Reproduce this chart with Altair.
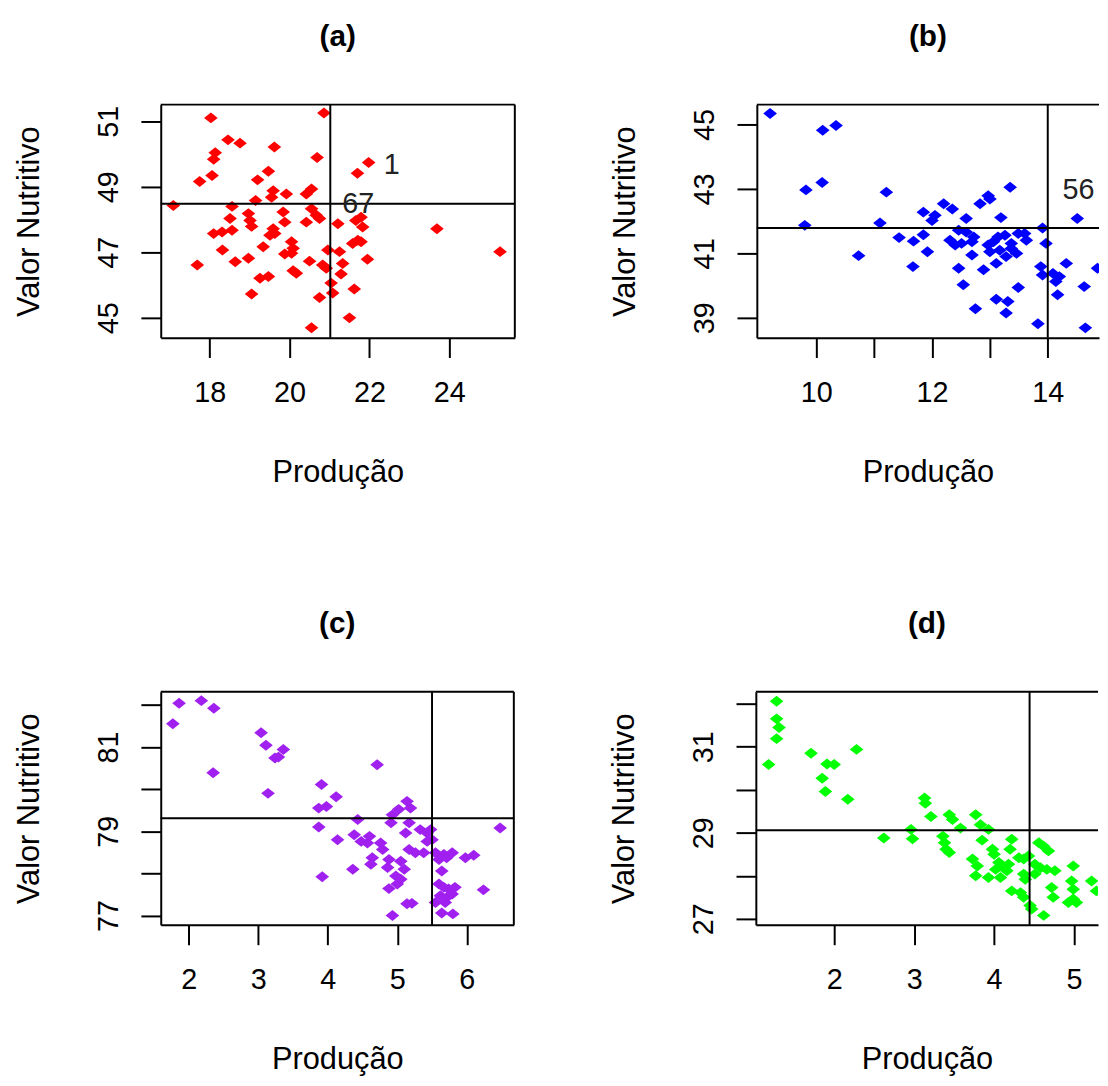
import altair as alt
import pandas as pd

FONT = "Liberation Sans"

# ---------------- data ----------------
a_x = [18.03, 20.86, 18.46, 18.76, 19.62, 18.14, 18.10, 20.69, 21.70, 21.98, 18.06, 17.75, 19.47, 19.20,
       19.59, 19.55, 19.92, 20.42, 20.55, 19.15, 17.09, 18.56, 18.97, 19.01, 19.05, 19.84, 19.88, 20.55,
       20.67, 20.75, 18.51, 18.56, 18.10, 18.31, 20.42, 21.21, 19.59, 19.51, 19.63, 18.32, 19.34, 20.05,
       20.09, 19.88, 20.05, 20.96, 21.25, 18.64, 18.97, 20.50, 20.83, 20.92, 17.69, 21.33, 20.09, 20.17,
       21.29, 19.26, 19.47, 21.04, 21.08, 21.62, 19.05, 20.75, 20.55, 21.50, 21.66, 21.79, 21.83, 21.71,
       21.58, 21.79, 23.69, 25.27, 21.95]
a_y = [51.10, 51.25, 50.43, 50.33, 50.21, 50.04, 49.84, 49.89, 49.41, 49.74, 49.34, 49.16, 49.47, 49.21,
       48.88, 48.68, 48.78, 48.78, 48.93, 48.58, 48.43, 48.40, 48.18, 47.97, 47.79, 48.23, 47.92, 48.33,
       48.13, 48.03, 48.03, 47.67, 47.57, 47.62, 47.92, 47.87, 47.72, 47.52, 47.57, 47.07, 47.17, 47.32,
       47.12, 46.95, 46.97, 47.07, 47.02, 46.71, 46.82, 46.73, 46.61, 46.51, 46.61, 46.66, 46.44, 46.36,
       46.34, 46.21, 46.26, 46.06, 45.76, 45.88, 45.73, 45.62, 44.70, 45.00, 47.97, 48.07, 47.77, 47.37,
       47.27, 47.32, 47.72, 47.02, 46.79]

b_x = [9.20, 10.11, 10.34, 9.82, 10.10, 11.21, 9.80, 11.10, 11.85, 12.00, 11.43, 11.68, 11.85, 11.92,
       10.73, 11.67, 13.35, 12.97, 13.00, 12.83, 12.20, 12.35, 12.05, 12.59, 13.19, 14.51, 12.46, 12.59,
       13.91, 12.31, 12.40, 12.51, 12.69, 12.72, 12.97, 13.06, 13.14, 13.26, 13.37, 13.49, 13.60, 13.63,
       13.97, 13.00, 13.17, 13.37, 13.46, 12.69, 13.11, 13.28, 12.46, 12.89, 13.88, 13.91, 14.09, 14.20,
       14.14, 14.32, 14.86, 12.54, 13.49, 14.17, 14.63, 13.11, 13.31, 12.75, 13.28, 13.83, 14.65]
b_y = [45.34, 44.82, 44.97, 42.97, 43.20, 42.90, 41.87, 41.94, 42.28, 42.02, 41.49, 41.38, 41.58, 41.05,
       40.93, 40.59, 43.05, 42.79, 42.69, 42.54, 42.54, 42.38, 42.18, 42.08, 42.11, 42.08, 41.72, 41.66,
       41.79, 41.41, 41.26, 41.31, 41.36, 41.51, 41.26, 41.36, 41.51, 41.56, 41.31, 41.62, 41.62, 41.41,
       41.31, 41.05, 41.10, 41.15, 41.00, 40.95, 40.69, 40.90, 40.54, 40.49, 40.59, 40.33, 40.38, 40.28,
       40.13, 40.69, 40.54, 40.03, 39.94, 39.72, 39.97, 39.58, 39.51, 39.28, 39.15, 38.82, 38.69]

c_x = [1.86, 2.18, 2.36, 1.77, 3.04, 3.11, 3.36, 3.24, 3.29, 2.35, 3.14, 3.91, 4.12, 3.87, 3.98, 3.87,
       4.14, 3.92, 4.71, 5.14, 5.19, 5.02, 4.93, 4.43, 4.91, 5.17, 5.33, 5.43, 5.48, 5.12, 5.50, 5.43,
       6.48, 4.38, 4.48, 4.60, 4.57, 4.76, 4.79, 5.17, 5.26, 5.38, 5.55, 5.67, 5.79, 5.60, 5.71, 5.98,
       6.10, 4.64, 4.62, 4.88, 4.86, 5.05, 5.10, 4.36, 5.64, 4.98, 5.05, 5.00, 4.88, 5.60, 5.67, 5.74,
       5.83, 6.24, 5.62, 5.71, 5.79, 5.55, 5.69, 5.14, 5.21, 5.64, 5.80, 4.93]
c_y = [82.04, 82.10, 81.92, 81.55, 81.34, 81.04, 80.94, 80.74, 80.76, 80.39, 79.90, 80.11, 79.82, 79.55,
       79.59, 79.10, 78.80, 77.92, 80.58, 79.71, 79.55, 79.52, 79.39, 79.28, 79.20, 79.20, 79.04, 78.96,
       79.04, 78.96, 78.80, 78.76, 79.08, 78.92, 78.76, 78.88, 78.72, 78.72, 78.57, 78.57, 78.49, 78.49,
       78.49, 78.45, 78.49, 78.33, 78.37, 78.37, 78.43, 78.37, 78.22, 78.33, 78.14, 78.29, 78.10, 78.10,
       78.06, 77.94, 77.86, 77.75, 77.64, 77.75, 77.67, 77.63, 77.67, 77.61, 77.47, 77.43, 77.51, 77.31,
       77.31, 77.28, 77.29, 77.06, 77.04, 77.00]

d_x = [1.28, 1.28, 1.31, 1.28, 1.18, 1.71, 2.28, 1.91, 2.00, 1.85, 1.89, 2.17, 3.13, 3.14, 3.21, 2.62,
       2.96, 2.98, 3.44, 3.48, 3.77, 3.83, 3.93, 3.58, 3.36, 3.38, 3.40, 3.44, 3.85, 4.22, 4.20, 3.98,
       4.00, 3.73, 3.79, 4.06, 4.12, 4.18, 4.02, 4.16, 4.31, 4.37, 4.43, 3.77, 3.93, 4.08, 4.37, 4.39,
       4.56, 4.62, 4.68, 4.51, 4.58, 4.66, 4.76, 4.99, 4.51, 4.72, 4.74, 4.97, 4.99, 4.99, 5.22, 5.28,
       4.93, 5.03, 4.22, 4.33, 4.37, 4.45, 4.47, 4.62]
d_y = [32.06, 31.65, 31.45, 31.19, 30.59, 30.85, 30.94, 30.60, 30.59, 30.27, 29.96, 29.78, 29.81, 29.69,
       29.38, 28.88, 29.08, 28.86, 29.42, 29.31, 29.42, 29.19, 29.08, 29.11, 28.92, 28.77, 28.62, 28.54,
       28.83, 28.85, 28.62, 28.62, 28.50, 28.39, 28.23, 28.31, 28.19, 28.27, 28.15, 28.12, 28.42, 28.39,
       28.46, 28.00, 27.96, 27.96, 28.04, 27.92, 28.77, 28.69, 28.58, 28.27, 28.19, 28.15, 28.12, 28.23,
       28.04, 27.73, 27.50, 27.88, 27.69, 27.46, 27.88, 27.65, 27.38, 27.38, 27.65, 27.61, 27.50, 27.31,
       27.23, 27.08]

titles = ["(a)", "(b)", "(c)", "(d)"]
colors = ["#FF0000", "#0000FF", "#A020F0", "#00FF00"]
x_title = "Produção"
y_title = "Valor Nutritivo"

# mean lines (vertical, horizontal)
a_lines = (21.02, 48.48)
b_lines = (14.00, 41.79)
c_lines = (5.50, 79.31)
d_lines = (4.444, 29.06)

# tick values
a_xticks = [18, 20, 22, 24]
a_yticks = [45, 46, 47, 48, 49, 50, 51]
b_xticks = [10, 11, 12, 13, 14]
b_yticks = [39, 40, 41, 42, 43, 44, 45]
c_xticks = [2, 3, 4, 5, 6]
c_yticks = [77, 78, 79, 80, 81, 82]
d_xticks = [2, 3, 4, 5]
d_yticks = [27, 28, 29, 30, 31, 32]

# point labels
a_labels = [("1", 22.56, 49.66), ("67", 21.72, 48.48)]
b_labels = [("56", 14.53, 42.95)]

# ---------------- helpers ----------------
ODD = "datum.value % 2 == 1 ? datum.label : ''"
EVEN = "datum.value % 2 == 0 ? datum.label : ''"
ALL = "datum.label"
SHAPE = "M-1,0L0,-0.8L1,0L0,0.8Z"
one = pd.DataFrame({"k": [0]})


def panel(xs, ys, color, title, xdom, ydom, xticks, xexpr, yticks, yexpr,
          lines, width, height, right_border, labels):
    df = pd.DataFrame({"x": xs, "y": ys})
    xscale = alt.Scale(domain=xdom, nice=False, zero=False)
    yscale = alt.Scale(domain=ydom, nice=False, zero=False)
    common = dict(grid=False, tickSize=20, tickWidth=2, tickColor="black",
                  domainColor="black", domainWidth=2, format="d",
                  labelFont=FONT, labelFontSize=29, labelColor="black",
                  labelOverlap=False, labelFlush=False,
                  titleFont=FONT, titleFontSize=31, titleFontWeight="normal",
                  titleColor="black")
    xaxis = alt.Axis(values=xticks, labelExpr=xexpr, title=x_title,
                     labelPadding=21, titlePadding=51, **common)
    yaxis = alt.Axis(values=yticks, labelExpr=yexpr, title=y_title,
                     labelAngle=270, labelAlign="center", labelBaseline="bottom",
                     labelPadding=18, titlePadding=49, **common)
    pts = alt.Chart(df).mark_point(shape=SHAPE, filled=True, size=190, color=color,
                                   opacity=1, strokeWidth=0, clip=True).encode(
        x=alt.X("x:Q", scale=xscale, axis=xaxis),
        y=alt.Y("y:Q", scale=yscale, axis=yaxis),
    )
    layers = [pts]
    layers.append(alt.Chart(one).mark_rule(color="black", strokeWidth=2)
                  .encode(x=alt.datum(lines[0])))
    layers.append(alt.Chart(one).mark_rule(color="black", strokeWidth=2)
                  .encode(y=alt.datum(lines[1])))
    layers.append(alt.Chart(one).mark_rule(color="black", strokeWidth=2)
                  .encode(y=alt.value(0)))
    if right_border:
        layers.append(alt.Chart(one).mark_rule(color="black", strokeWidth=2)
                      .encode(x=alt.value(width)))
    for txt, lx, ly in labels:
        layers.append(alt.Chart(one).mark_text(font=FONT, fontSize=29, color="#222222",
                                               align="center", baseline="middle")
                      .encode(x=alt.datum(lx), y=alt.datum(ly), text=alt.value(txt)))
    return alt.layer(*layers).properties(
        width=width, height=height,
        title=alt.TitleParams(text=title, font=FONT, fontSize=30, fontWeight="bold",
                              color="black", anchor="middle", offset=52),
    )


pa = panel(a_x, a_y, colors[0], titles[0], [16.775, 25.64], [44.395, 51.505],
           a_xticks, ALL, a_yticks, ODD, a_lines, 357, 235, True, a_labels)
pb = panel(b_x, b_y, colors[1], titles[1], [8.971, 14.886], [38.385, 45.615],
           b_xticks, EVEN, b_yticks, ODD, b_lines, 345, 235, False, b_labels)
pc = panel(c_x, c_y, colors[2], titles[2], [1.596, 6.677], [76.78, 82.31],
           c_xticks, ALL, c_yticks, ODD, c_lines, 356, 235, True, [])
pd_ = panel(d_x, d_y, colors[3], titles[3], [1.02, 5.30], [26.86, 32.28],
            d_xticks, ALL, d_yticks, ODD, d_lines, 345, 235, False, [])

chart = alt.vconcat(
    alt.hconcat(pa, pb, spacing=244, bounds="flush"),
    alt.hconcat(pc, pd_, spacing=244, bounds="flush"),
    spacing=592, bounds="flush",
).properties(
    padding={"left": 5, "top": 10, "right": 0, "bottom": 0},
    background="white",
).configure_view(stroke=None)

chart.save("out.html", embed_options={"renderer": "svg", "actions": False})
